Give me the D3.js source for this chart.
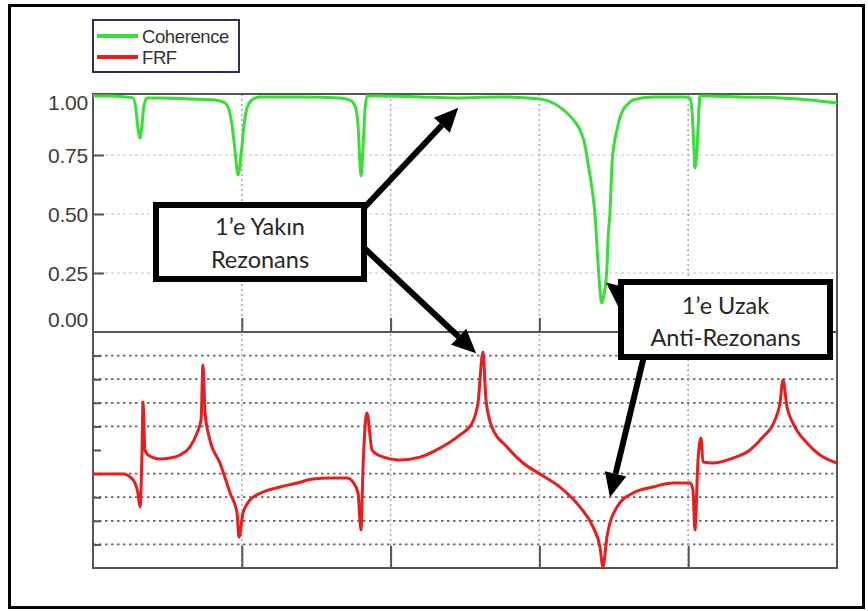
<!DOCTYPE html>
<html>
<head>
<meta charset="utf-8">
<script src="https://cdn.jsdelivr.net/npm/d3@7"></script>
<style>
  body { margin: 0; background: #fff; }
  svg { display: block; }
</style>
</head>
<body>
<div id="container"></div>
<script>
// coherence (frequency in Hz, 0..500)
var cohFreq = [0, 11.4, 21.5, 26.9, 28.9, 30.2, 31.6, 32.9, 34.3, 36.3, 45.0, 65.2, 82.0, 88.7, 91.4, 93.4,
  95.4, 97.4, 99.5, 101.5, 103.5, 106.8, 112.2, 139.1, 166.0, 172.7, 176.1, 178.1, 180.1, 181.4, 182.8, 184.1,
  192.9, 219.7, 243.3, 273.5, 300.4, 310.5, 318.5, 323.9, 327.3, 330.6, 332.6, 335.3, 337.3, 339.4, 340.7,
  342.0, 343.4, 345.4, 346.1, 347.4, 348.8, 350.1, 352.1, 354.1, 356.2, 359.5, 362.9, 376.3, 396.5, 401.2,
  402.5, 403.9, 404.5, 405.9, 407.2, 407.9, 414.6, 434.8, 461.7, 481.8, 500];
var cohValues = [1.000, 1.000, 0.996, 0.992, 0.941, 0.864, 0.822, 0.877, 0.962, 0.992, 0.992, 0.987, 0.983, 0.970, 0.941, 0.877,
  0.771, 0.665, 0.750, 0.877, 0.949, 0.983, 0.996, 0.996, 0.992, 0.983, 0.958, 0.877, 0.661, 0.771, 0.941, 1.000,
  1.000, 0.996, 0.992, 0.996, 0.987, 0.966, 0.928, 0.890, 0.856, 0.792, 0.716, 0.610, 0.504, 0.292, 0.178,
  0.123, 0.157, 0.275, 0.390, 0.504, 0.716, 0.792, 0.856, 0.907, 0.941, 0.966, 0.983, 0.996, 0.996, 0.992,
  0.941, 0.771, 0.695, 0.771, 0.941, 1.000, 1.000, 0.996, 0.992, 0.983, 0.970];

// FRF magnitude (grid units, 0..10)
var frfFreq = [0, 20.2, 24.9, 28.2, 30.2, 31.6, 32.9, 33.6, 34.9, 37.0, 45.0, 51.7, 58.5, 65.2, 69.9, 72.6,
  73.9, 75.3, 78.6, 85.3, 92.1, 96.8, 98.1, 100.8, 105.5, 114.2, 125.7, 137.1, 147.8, 159.3, 170.7, 174.7,
  178.1, 180.1, 181.4, 184.1, 187.5, 191.5, 192.9, 206.3, 219.7, 233.2, 246.6, 254.7, 258.7, 262.1, 264.1,
  268.1, 278.2, 289.0, 300.4, 313.8, 327.3, 336.0, 340.7, 342.7, 345.4, 352.1, 362.9, 376.3, 389.8, 401.2,
  403.2, 404.5, 406.6, 408.6, 409.9, 416.6, 430.1, 441.5, 450.2, 458.3, 461.7, 463.7, 466.4, 470.4, 479.8,
  488.5, 500];
var frfValues = [3.98, 3.98, 3.86, 3.60, 3.18, 2.58, 4.87, 7.03, 5.00, 4.79, 4.62, 4.66, 4.79, 5.13, 5.72, 6.27,
  8.60, 6.57, 5.42, 4.45, 3.18, 2.33, 1.31, 2.33, 2.88, 3.22, 3.43, 3.60, 3.77, 3.81, 3.81, 3.64,
  3.18, 1.61, 4.15, 6.57, 5.00, 4.79, 4.75, 4.58, 4.70, 5.08, 5.64, 6.14, 6.99, 9.15, 7.12,
  5.97, 5.13, 4.45, 3.98, 3.43, 2.58, 1.74, 0.89, 0.05, 1.31, 2.58, 3.18, 3.43, 3.60, 3.60,
  3.31, 1.61, 4.58, 5.51, 4.49, 4.45, 4.66, 5.00, 5.55, 6.27, 6.99, 7.97, 6.82, 6.14, 5.30,
  4.79, 4.45];

var cohTicks = [0, 0.25, 0.5, 0.75, 1];
var frfTicks = [1, 2, 3, 4, 5, 6, 7, 8, 9];
var freqTicks = [100, 200, 300, 400];
var seriesNames = ["Coherence", "FRF"];
var seriesColors = ["#35e135", "#ec1c1c"];

var svg = d3.select("#container")
  .append("svg")
  .attr("width", 868)
  .attr("height", 611);

var x = d3.scaleLinear().domain([0, 500]).range([93, 837]);
var yC = d3.scaleLinear().domain([0, 1]).range([332, 96]);
var yF = d3.scaleLinear().domain([0, 10]).range([568, 332]);

// outer frame of the figure
svg.append("rect")
  .attr("x", 9.5).attr("y", 5.5)
  .attr("width", 854).attr("height", 602)
  .attr("fill", "none").attr("stroke", "#000").attr("stroke-width", 3);

// grid lines
var grid = svg.append("g").attr("id", "grid");
grid.selectAll(".hgC")
  .data([0.25, 0.5, 0.75])
  .enter().append("line")
    .attr("x1", x(0)).attr("x2", x(500))
    .attr("y1", function(d) { return yC(d); })
    .attr("y2", function(d) { return yC(d); })
    .attr("stroke", "#d8d8d8").attr("stroke-width", 1.5)
    .attr("stroke-dasharray", "3,3");
grid.selectAll(".hgF")
  .data(frfTicks.filter(function(d) { return d != 5; }))
  .enter().append("line")
    .attr("x1", x(0)).attr("x2", x(500))
    .attr("y1", function(d) { return yF(d); })
    .attr("y2", function(d) { return yF(d); })
    .attr("stroke", "#666").attr("stroke-width", 1.7)
    .attr("stroke-dasharray", "2.5,3.5");
grid.selectAll(".vg")
  .data(freqTicks)
  .enter().append("line")
    .attr("x1", function(d) { return x(d); })
    .attr("x2", function(d) { return x(d); })
    .attr("y1", yC(1) - 2).attr("y2", yF(0))
    .attr("stroke", "#a8a8a8").attr("stroke-width", 1.5)
    .attr("stroke-dasharray", "2,3");

// axes
var axC = svg.append("g")
  .attr("transform", "translate(" + x(0) + ",0)")
  .call(d3.axisLeft(yC).tickValues(cohTicks).tickFormat(d3.format(".2f")).tickSize(-11).tickPadding(5));
axC.select(".domain").remove();
axC.selectAll(".tick line").attr("stroke", "#555").attr("stroke-width", 2)
  .filter(function(d) { return d == 0 || d == 1; }).remove();
axC.selectAll(".tick text")
  .attr("font-family", "Liberation Sans, Arial, sans-serif")
  .attr("font-size", 21)
  .attr("letter-spacing", -0.2)
  .attr("fill", "#3c3c3c")
  .attr("dy", function(d) { return d == 1 ? "0.64em" : d == 0 ? "-0.26em" : "0.34em"; });

var axF = svg.append("g")
  .attr("transform", "translate(" + x(0) + ",0)")
  .call(d3.axisLeft(yF).tickValues(frfTicks).tickFormat("").tickSize(-8));
axF.select(".domain").remove();
axF.selectAll(".tick line").attr("stroke", "#555").attr("stroke-width", 2);

var axB1 = svg.append("g")
  .attr("transform", "translate(0," + yC(0) + ")")
  .call(d3.axisBottom(x).tickValues(freqTicks).tickFormat("").tickSize(-14));
axB1.select(".domain").remove();
axB1.selectAll(".tick line").attr("stroke", "#555").attr("stroke-width", 2);

var axB2 = svg.append("g")
  .attr("transform", "translate(0," + yF(0) + ")")
  .call(d3.axisBottom(x).tickValues(freqTicks).tickFormat("").tickSize(-22));
axB2.select(".domain").remove();
axB2.selectAll(".tick line").attr("stroke", "#555").attr("stroke-width", 2);

// panel frames
svg.append("rect")
  .attr("x", x(0)).attr("y", 94)
  .attr("width", x(500) - x(0)).attr("height", yF(0) - 94)
  .attr("fill", "none").attr("stroke", "#555").attr("stroke-width", 2);
svg.append("line")
  .attr("x1", x(0)).attr("x2", x(500))
  .attr("y1", yC(0)).attr("y2", yC(0))
  .attr("stroke", "#555").attr("stroke-width", 2);

// curves
var cohLine = d3.line()
  .x(function(d, i) { return x(cohFreq[i]); })
  .y(function(d) { return yC(d); })
  .curve(d3.curveMonotoneX);
var frfLine = d3.line()
  .x(function(d, i) { return x(frfFreq[i]); })
  .y(function(d) { return yF(d); })
  .curve(d3.curveMonotoneX);

svg.append("path")
  .datum(cohValues)
  .attr("d", cohLine)
  .attr("fill", "none")
  .attr("stroke", seriesColors[0])
  .attr("stroke-width", 3)
  .attr("stroke-linejoin", "round");

svg.append("path")
  .datum(frfValues)
  .attr("d", frfLine)
  .attr("fill", "none")
  .attr("stroke", seriesColors[1])
  .attr("stroke-width", 3)
  .attr("stroke-linejoin", "round");

// legend
var legend = svg.append("g").attr("id", "legend");
legend.append("rect")
  .attr("x", 93).attr("y", 20)
  .attr("width", 146).attr("height", 52)
  .attr("fill", "#fff").attr("stroke", "#2b2f5c").attr("stroke-width", 2);
var legendItem = legend.selectAll(".legendItem")
  .data(seriesNames)
  .enter().append("g")
    .attr("transform", function(d, i) { return "translate(0," + (36 + i * 21) + ")"; });
legendItem.append("line")
  .attr("x1", 97).attr("x2", 138)
  .attr("stroke", function(d, i) { return seriesColors[i]; })
  .attr("stroke-width", 4);
legendItem.append("text")
  .attr("x", 142).attr("dy", "0.36em")
  .attr("font-family", "Liberation Sans, Arial, sans-serif")
  .attr("font-size", 18.5)
  .attr("letter-spacing", -0.4)
  .attr("fill", "#333")
  .text(function(d) { return d; });

// annotations
function arrow(x1, y1, x2, y2) {
  var a = Math.atan2(y2 - y1, x2 - x1);
  var len = 24, hw = 11;
  var bx = x2 - len * Math.cos(a), by = y2 - len * Math.sin(a);
  svg.append("line")
    .attr("x1", x1).attr("y1", y1).attr("x2", bx).attr("y2", by)
    .attr("stroke", "#000").attr("stroke-width", 6);
  svg.append("polygon")
    .attr("points", [
      [x2, y2],
      [bx + hw * Math.sin(a), by - hw * Math.cos(a)],
      [bx - hw * Math.sin(a), by + hw * Math.cos(a)]
    ].map(function(p) { return p.join(","); }).join(" "))
    .attr("fill", "#000");
}

arrow(362, 210, x(245.5), yC(0.95));
arrow(362, 246, x(257.5), yF(9.1));
arrow(645, 352, x(347.4), yF(3.0));
arrow(628, 300, x(344.8), yC(0.21));

var boxes = [
  { x: 156, y: 205, w: 208, h: 74, lines: ["1\u2019e Yak\u0131n", "Rezonans"], ty: [227, 260] },
  { x: 621, y: 282, w: 209, h: 75, lines: ["1\u2019e Uzak", "Anti-Rezonans"], ty: [306, 338] }
];
boxes.forEach(function(b) {
  svg.append("rect")
    .attr("x", b.x).attr("y", b.y)
    .attr("width", b.w).attr("height", b.h)
    .attr("fill", "#fff").attr("stroke", "#000").attr("stroke-width", 6);
  b.lines.forEach(function(t, i) {
    svg.append("text")
      .attr("x", b.x + b.w / 2).attr("y", b.ty[i])
      .attr("dy", "0.35em")
      .attr("text-anchor", "middle")
      .attr("font-family", "Lato, Open Sans, sans-serif")
      .attr("font-size", 23.5)
      .attr("fill", "#262626")
      .text(t);
  });
});
</script>
</body>
</html>
